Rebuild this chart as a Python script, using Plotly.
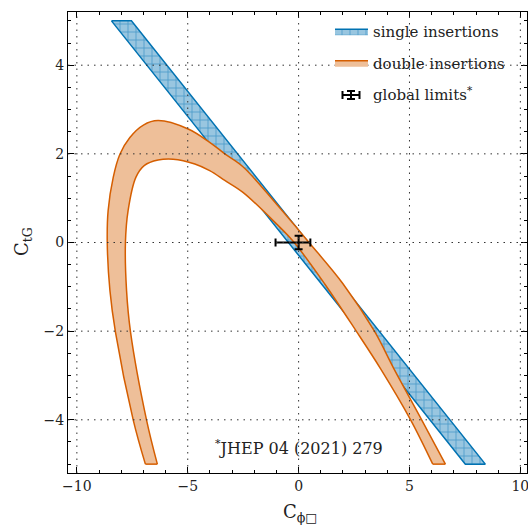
import plotly.graph_objects as go

# ---- data ----
# single insertions: straight band (corner points)
single_x = [-8.44, -7.54, 8.42, 7.52]
single_y = [5.0, 5.0, -5.0, -5.0]

# double insertions: outer and inner boundary, from lower-left end to lower-right end
outer_x = [-6.91, -7.46, -8.26, -8.51, -8.63, -8.59, -8.36, -8.06, -7.61, -7.00, -6.34, -4.98,
           -4.01, -3.33, -2.51, -1.00, -0.03, 0.47, 2.00, 3.42, 4.30, 5.55, 6.62]
outer_y = [-5.00, -4.00, -2.02, -1.08, 0.00, 0.72, 1.47, 1.99, 2.37, 2.65, 2.75, 2.56,
           2.26, 2.00, 1.71, 0.87, 0.30, 0.00, -0.93, -2.00, -2.85, -4.00, -5.00]
inner_x = [-6.37, -6.86, -7.58, -7.76, -7.81, -7.69, -7.34, -6.95, -6.34, -5.66, -4.68,
           -4.01, -3.33, -2.51, -1.00, -0.20, 1.17, 2.60, 3.70, 5.05, 6.05]
inner_y = [-5.00, -4.00, -2.02, -1.08, 0.00, 0.72, 1.47, 1.74, 1.86, 1.88, 1.77,
           1.62, 1.40, 1.13, 0.42, 0.00, -0.93, -2.00, -2.85, -4.00, -5.00]

# global limits (point with asymmetric errors)
glob_x = [0.0]
glob_y = [0.0]
glob_xerr_minus = [1.04]
glob_xerr_plus = [0.53]
glob_yerr = [0.15]

x_ticks = [-10, -5, 0, 5, 10]
y_ticks = [-4, -2, 0, 2, 4]
x_range = [-10.4, 10.3]
y_range = [-5.2, 5.2]

BLUE = "#0072b2"
BLUE_FILL = "#99c6e0"
ORANGE = "#d55e00"
ORANGE_FILL = "#eebf99"
FONT = "DejaVu Serif"
TXT = "#222"

W, H = 528, 527
# plot area in window pixels
PL, PR, PT, PB = 68, 527, 12, 473
ML, MR, MT, MB = PL, W - PR, PT, H - PB
PW, PH = PR - PL, PB - PT


def px2paper(px, py):
    return (px - PL) / PW, (PB - py) / PH


fig = go.Figure()

# single insertions band
fig.add_trace(go.Scatter(
    x=single_x + [single_x[0]], y=single_y + [single_y[0]],
    mode="lines", fill="toself",
    fillcolor=BLUE_FILL,
    fillpattern=dict(shape="+", fgcolor=BLUE, bgcolor=BLUE_FILL, size=8, solidity=0.2),
    line=dict(color=BLUE, width=1.5),
    name="single insertions",
    legendgroup="a",
))

# double insertions band (outer curve, then inner filled to it)
fig.add_trace(go.Scatter(
    x=outer_x, y=outer_y, mode="lines",
    line=dict(color=ORANGE, width=1.5, shape="spline", smoothing=1.0),
    showlegend=False, hoverinfo="skip", legendgroup="b",
))
fig.add_trace(go.Scatter(
    x=inner_x, y=inner_y, mode="lines",
    line=dict(color=ORANGE, width=1.5, shape="spline", smoothing=1.0),
    fill="tonext", fillcolor=ORANGE_FILL,
    name="double insertions", legendgroup="b",
))
# end caps of the band
fig.add_trace(go.Scatter(
    x=[outer_x[0], inner_x[0]], y=[outer_y[0], inner_y[0]], mode="lines",
    line=dict(color=ORANGE, width=1.5), showlegend=False, hoverinfo="skip",
))
fig.add_trace(go.Scatter(
    x=[outer_x[-1], inner_x[-1]], y=[outer_y[-1], inner_y[-1]], mode="lines",
    line=dict(color=ORANGE, width=1.5), showlegend=False, hoverinfo="skip",
))

# global limits
fig.add_trace(go.Scatter(
    x=glob_x, y=glob_y, mode="markers",
    marker=dict(size=1, color="rgba(0,0,0,0)"),
    error_x=dict(type="data", symmetric=False, array=glob_xerr_plus,
                 arrayminus=glob_xerr_minus, color="black", thickness=2, width=4),
    error_y=dict(type="data", array=glob_yerr, color="black", thickness=2, width=4),
    name="global limits<sup>*</sup>", legendgroup="c",
))

shapes = []
# dotted grid drawn above the bands (as in the reference)
for xv in x_ticks:
    shapes.append(dict(type="line", xref="x", yref="paper", x0=xv, x1=xv, y0=0, y1=1,
                       line=dict(color="#333", width=1, dash="1.5px,5px"), layer="above"))
for yv in y_ticks:
    shapes.append(dict(type="line", xref="paper", yref="y", x0=0, x1=1, y0=yv, y1=yv,
                       line=dict(color="#333", width=1, dash="1.5px,5px"), layer="above"))

# legend icon for the error-bar entry (horizontal bar with caps + short vertical bar)
icx, icy = 351.0, 95.0
def seg(x0, y0, x1, y1):
    a0, b0 = px2paper(x0, y0)
    a1, b1 = px2paper(x1, y1)
    return dict(type="line", xref="paper", yref="paper", x0=a0, y0=b0, x1=a1, y1=b1,
                line=dict(color="black", width=2), layer="above")
shapes += [
    seg(icx - 8.5, icy, icx + 8.5, icy),
    seg(icx - 8.5, icy - 4, icx - 8.5, icy + 4),
    seg(icx + 8.5, icy - 4, icx + 8.5, icy + 4),
    seg(icx, icy - 4, icx, icy + 4),
    seg(icx - 4, icy - 4, icx + 4, icy - 4),
    seg(icx - 4, icy + 4, icx + 4, icy + 4),
]

annotations = [
    dict(x=0, y=-4.62, xref="x", yref="y",
         text="<sup>*</sup>JHEP 04 (2021) 279", showarrow=False,
         font=dict(family=FONT, size=16, color=TXT)),
]
ax_, ay_ = px2paper(300, 527)
annotations.append(dict(x=ax_, y=ay_, xref="paper", yref="paper", showarrow=False,
                        yanchor="bottom",
                        text="C<sub>ϕ□</sub>", font=dict(family=FONT, size=18, color=TXT)))
bx_, by_ = px2paper(9, 242)
annotations.append(dict(x=bx_, y=by_, xref="paper", yref="paper", showarrow=False, textangle=-90,
                        xanchor="left",
                        text="C<sub>tG</sub>", font=dict(family=FONT, size=18, color=TXT)))

axis_common = dict(
    showline=True, linecolor="black", linewidth=1, mirror="allticks",
    ticks="inside", ticklen=6, tickwidth=1, tickcolor="black",
    showgrid=False, zeroline=False, automargin=False, ticklabeloverflow="allow",
    tickfont=dict(family=FONT, size=14, color=TXT),
)

fig.update_xaxes(
    **axis_common, range=x_range, tickvals=x_ticks,
    minor=dict(ticks="inside", ticklen=3, dtick=1, tick0=0, tickcolor="black", showgrid=False),
)
fig.update_yaxes(
    **axis_common, range=y_range, tickvals=y_ticks,
    minor=dict(ticks="inside", ticklen=3, dtick=0.5, tick0=0, tickcolor="black", showgrid=False),
)

lx, ly = px2paper(330, 15)
fig.update_layout(
    width=W, height=H,
    margin=dict(l=ML, r=MR, t=MT, b=MB, autoexpand=False),
    plot_bgcolor="white", paper_bgcolor="white",
    font=dict(family=FONT, color=TXT),
    shapes=shapes, annotations=annotations,
    legend=dict(
        x=lx, y=ly, xanchor="left", yanchor="top",
        bgcolor="rgba(0,0,0,0)", borderwidth=0,
        font=dict(family=FONT, size=15, color=TXT),
        tracegroupgap=9, itemwidth=33,
    ),
)

# remove the browser's default page margin so the figure sits at the window origin
page_fix = ("document.body.style.margin='0';document.body.style.padding='0';"
            "document.body.style.overflow='hidden';"
            "document.documentElement.style.overflow='hidden';")
fig.write_html("out.html", post_script=page_fix, config={"displayModeBar": False})
